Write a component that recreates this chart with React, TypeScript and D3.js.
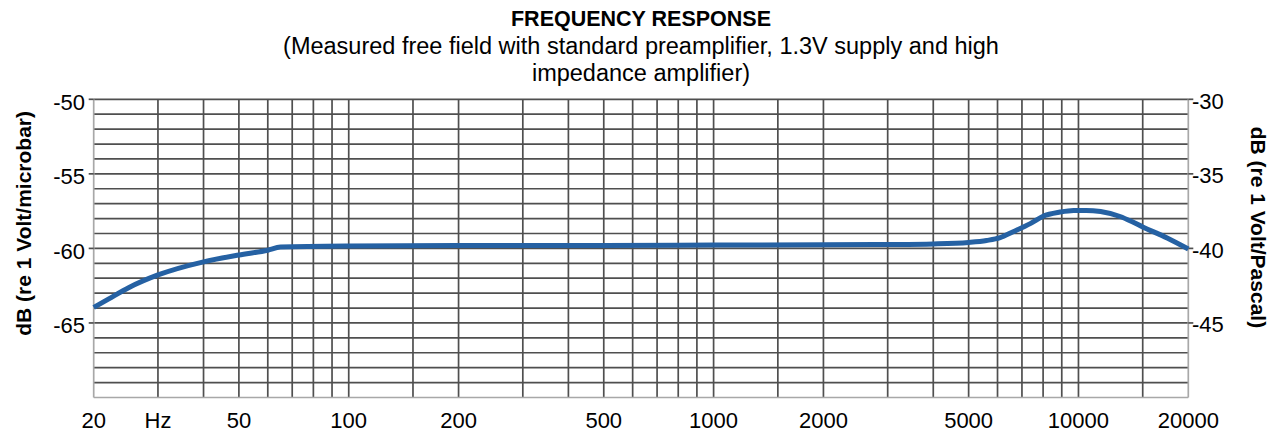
import { useMemo } from "react"
import { curveMonotoneX, line as d3Line, scaleLinear, scaleLog } from "d3"

const frequencies = [20, 22, 25, 30, 40, 50, 60, 65, 100, 200, 500, 1000, 2000, 3000, 4000, 5000, 5600, 6100, 6600, 7400, 8000, 8900, 9700, 10500, 11500, 13000, 14000, 15000, 17500, 20000]
const responseDb = [-63.96, -63.38, -62.62, -61.78, -60.9, -60.44, -60.12, -59.91, -59.84, -59.81, -59.8, -59.78, -59.76, -59.74, -59.7, -59.6, -59.47, -59.28, -58.9, -58.32, -57.84, -57.56, -57.45, -57.45, -57.53, -57.86, -58.2, -58.56, -59.3, -60.04]

const gridFrequencies = [30, 40, 50, 60, 70, 80, 90, 100, 150, 200, 300, 400, 500, 600, 700, 800, 900, 1000, 1500, 2000, 3000, 4000, 5000, 6000, 7000, 8000, 9000, 10000, 15000]
const xTickValues = [20, 30, 50, 100, 200, 500, 1000, 2000, 5000, 10000, 20000]
const xTickLabels = ["20", "Hz", "50", "100", "200", "500", "1000", "2000", "5000", "10000", "20000"]
const gridDb = [-69, -68, -67, -66, -65, -64, -63, -62, -61, -60, -59, -58, -57, -56, -55, -54, -53, -52, -51, -50]
const leftTicks = [-50, -55, -60, -65]
const rightTicks = [-30, -35, -40, -45]

const title = "FREQUENCY RESPONSE"
const subtitleLines = ["(Measured free field with standard preamplifier, 1.3V supply and high", "impedance amplifier)"]
const leftAxisTitle = "dB (re 1 Volt/microbar)"
const rightAxisTitle = "dB (re 1 Volt/Pascal)"

const FONT = "'Liberation Sans', Arial, sans-serif"
const GRID = "#4f4f4f"
const AXIS = "#a8a8a8"
const CURVE = "#2561a3"

export default function App() {
  const width = 1273
  const height = 432
  const plot = { left: 93.7, right: 1188.3, top: 99.3, bottom: 397.5 }

  const xScale = useMemo(() => scaleLog().domain([20, 20000]).range([plot.left, plot.right]), [])
  const yScale = useMemo(() => scaleLinear().domain([-70, -50]).range([plot.bottom, plot.top]), [])
  const yRight = useMemo(() => scaleLinear().domain([-50, -30]).range([plot.bottom, plot.top]), [])

  const curvePath = useMemo(() => {
    const pts = frequencies.map((f, i) => [f, responseDb[i]] as [number, number])
    return (
      d3Line<[number, number]>()
        .x((d) => xScale(d[0]))
        .y((d) => yScale(d[1]))
        .curve(curveMonotoneX)(pts) ?? ""
    )
  }, [xScale, yScale])

  const midY = (plot.top + plot.bottom) / 2

  return (
    <svg
      width={width}
      height={height}
      viewBox={`0 0 ${width} ${height}`}
      style={{ position: "absolute", left: 0, top: 0, display: "block", background: "#fff" }}
      fontFamily={FONT}
    >
      <text x={641} y={26} textAnchor="middle" fontSize={21.5} fontWeight="bold" fill="#000">{title}</text>
      {subtitleLines.map((t, i) => (
        <text key={t} x={641} y={54 + i * 27} textAnchor="middle" fontSize={23.5} fill="#000">{t}</text>
      ))}

      {/* horizontal grid */}
      {gridDb.map((db) => (
        <line key={db} x1={plot.left} x2={plot.right} y1={yScale(db)} y2={yScale(db)} stroke={GRID} strokeWidth={1.7} />
      ))}
      {/* vertical grid */}
      {gridFrequencies.map((f) => (
        <line key={f} x1={xScale(f)} x2={xScale(f)} y1={plot.top} y2={plot.bottom} stroke={GRID} strokeWidth={1.7} />
      ))}

      {/* frame */}
      <line x1={plot.left} x2={plot.left} y1={plot.top} y2={plot.bottom} stroke={AXIS} strokeWidth={1.7} />
      <line x1={plot.right} x2={plot.right} y1={plot.top} y2={plot.bottom} stroke={AXIS} strokeWidth={1.7} />
      <line x1={plot.left} x2={plot.right} y1={plot.bottom} y2={plot.bottom} stroke={AXIS} strokeWidth={1.7} />

      {leftTicks.map((t) => (
        <g key={t}>
          <line x1={plot.left - 5} x2={plot.left} y1={yScale(t)} y2={yScale(t)} stroke={GRID} strokeWidth={1.7} />
          <text x={85} y={yScale(t) + 10.5} textAnchor="end" fontSize={22} fill="#000">{t}</text>
        </g>
      ))}
      {rightTicks.map((t) => (
        <g key={t}>
          <line x1={plot.right} x2={plot.right + 5} y1={yRight(t)} y2={yRight(t)} stroke={GRID} strokeWidth={1.7} />
          <text x={1192} y={yRight(t) + 9.5} textAnchor="start" fontSize={22} fill="#000">{t}</text>
        </g>
      ))}

      {xTickValues.map((f, i) => (
        <text key={f} x={xScale(f)} y={428} textAnchor="middle" fontSize={22} fill="#000">{xTickLabels[i]}</text>
      ))}

      <text transform={`translate(31,${midY - 25}) rotate(-90)`} textAnchor="middle" fontSize={21} fontWeight="bold" fill="#000">{leftAxisTitle}</text>
      <text transform={`translate(1251,${midY - 21}) rotate(90)`} textAnchor="middle" fontSize={21} fontWeight="bold" fill="#000">{rightAxisTitle}</text>

      <path d={curvePath} fill="none" stroke={CURVE} strokeWidth={5} strokeLinecap="butt" />
    </svg>
  )
}
